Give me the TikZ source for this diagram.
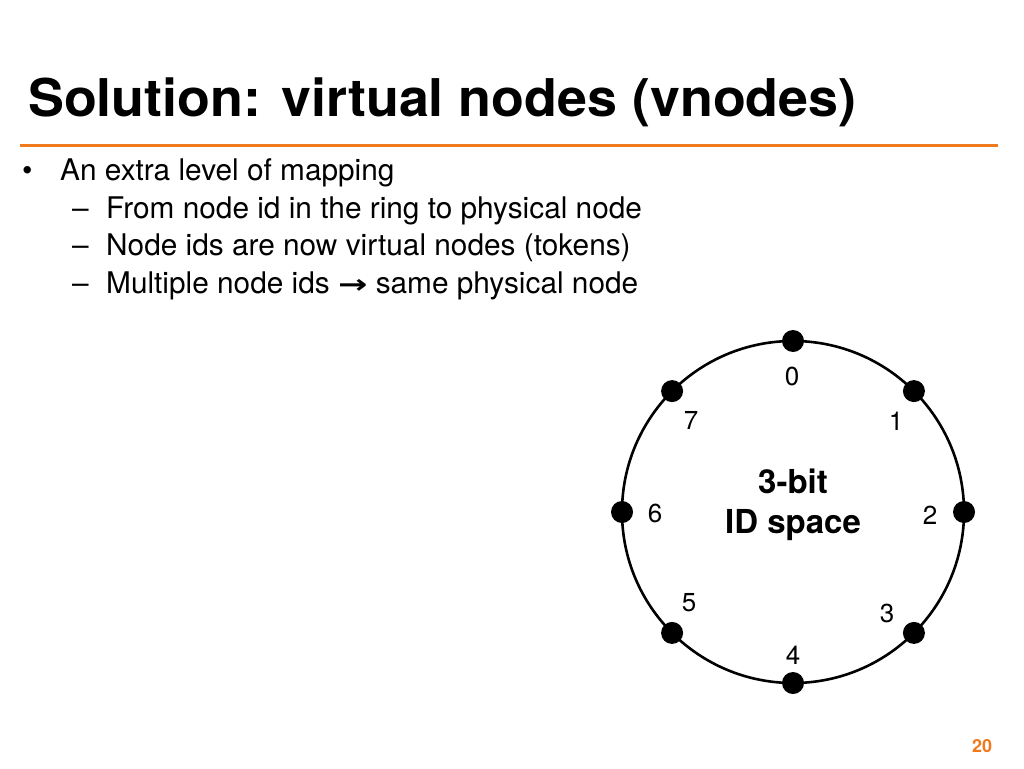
\documentclass[tikz,border=0pt]{standalone}
\usepackage{fontspec}
\setmainfont{TeX Gyre Heros}
\newfontfamily\symfont{DejaVu Sans}
\definecolor{accent}{RGB}{240,122,30}
\tikzset{
  titletext/.style={anchor=base west, inner sep=0pt, font=\fontsize{52}{60}\selectfont\bfseries},
  bodytext/.style={anchor=base west, inner sep=0pt, font=\fontsize{29.8}{36}\selectfont},
  ringlabel/.style={inner sep=0pt, font=\fontsize{26}{30}\selectfont},
  vdot/.style={circle, fill=black, inner sep=0pt, minimum size=22pt},
  centertext/.style={align=center, inner sep=0pt, font=\fontsize{33}{40}\selectfont\bfseries},
}
\begin{document}
\begin{tikzpicture}[x=1pt,y=-1pt]
\useasboundingbox (0,0) rectangle (1024,768);
\fill[white] (0,0) rectangle (1024,768);
% title
\node[titletext] (title) at (28,116) {\scalebox{1.035}[1]{Solution: virtual nodes (vnodes)}};
\draw[accent, line width=3pt] (20,145) -- (998,145);
% bullets
\node[bodytext] (m1) at (22,180) {•};
\node[bodytext] (t1) at (60,180) {An extra level of mapping};
\node[bodytext] (m2) at (72,218) {–};
\node[bodytext] (t2) at (106,218) {From node id in the ring to physical node};
\node[bodytext] (m3) at (72,255) {–};
\node[bodytext] (t3) at (106,255) {Node ids are now virtual nodes (tokens)};
\node[bodytext] (m4) at (72,293) {–};
\node[bodytext] (t4) at (106,293) {Multiple node ids {\symfont\bfseries\fontsize{26}{30}\selectfont\scalebox{1.35}[1]{→}} same physical node};
% ring
\coordinate (c) at (793,512);
\draw[line width=2.6pt] (c) circle[radius=171pt];
\foreach \i/\a in {0/90,1/45,2/0,3/-45,4/-90,5/-135,6/180,7/135}{
  \node[vdot] (d\i) at ([shift={(\a:171pt)}]c) {};
}
\node[ringlabel] (l0) at (792,376) {0};
\node[ringlabel] (l1) at (896,421) {1};
\node[ringlabel] (l2) at (930,515) {2};
\node[ringlabel] (l3) at (887,613) {3};
\node[ringlabel] (l4) at (793,655) {4};
\node[ringlabel] (l5) at (689,603) {5};
\node[ringlabel] (l6) at (655,513) {6};
\node[ringlabel] (l7) at (691,420) {7};
\node[centertext] (ctr) at (793,505) {3-bit\\ID space};
% page number
\node[inner sep=0pt, text=accent, font=\fontsize{18}{20}\selectfont\bfseries] (pg) at (982,746) {20};
\end{tikzpicture}
\end{document}
